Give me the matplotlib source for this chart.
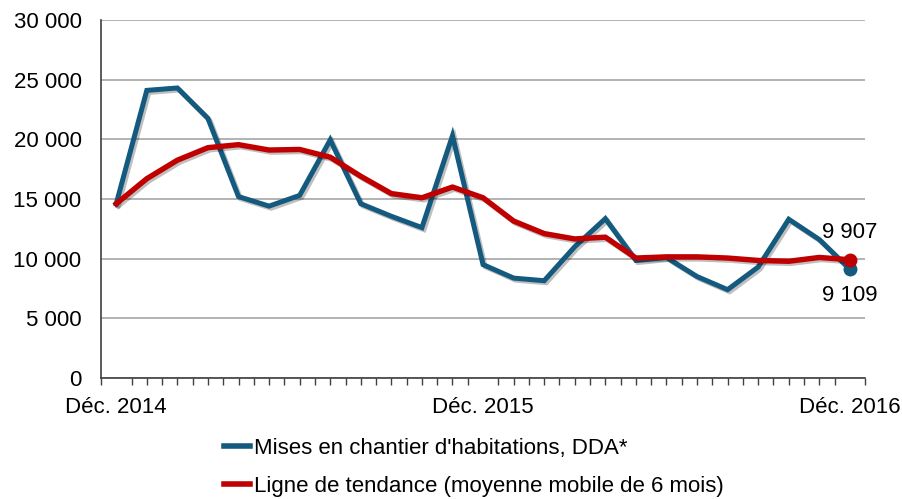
import numpy as np
import matplotlib
matplotlib.use("Agg")
import matplotlib.pyplot as plt
import matplotlib.patheffects as pe

# monthly values, Dec 2014 .. Dec 2016
starts = [14600, 24100, 24300, 21750, 15200, 14400, 15300, 19950, 14600, 13550,
          12600, 20300, 9500, 8370, 8150, 11000, 13350, 9850, 10100, 8500,
          7400, 9300, 13300, 11600, 9109]
trend = [14600, 16700, 18250, 19300, 19550, 19100, 19150, 18500, 16900, 15450,
         15100, 16000, 15100, 13150, 12100, 11650, 11800, 10050, 10150, 10150,
         10050, 9850, 9780, 10100, 9907]
tick_labels = {0: "Déc. 2014", 12: "Déc. 2015", 24: "Déc. 2016"}
series_names = ["Mises en chantier d'habitations, DDA*",
                "Ligne de tendance (moyenne mobile de 6 mois)"]

BLUE = "#14597e"
RED = "#c00000"

plt.rcParams["font.family"] = ["Liberation Sans", "DejaVu Sans"]

fig = plt.figure(figsize=(9.03, 4.99), dpi=100)
ax = fig.add_axes([0.1118, 0.2425, 0.8463, 0.7175])

x = np.arange(len(starts))
shadow = [pe.SimpleLineShadow(offset=(1.5, -1.5), alpha=0.25), pe.Normal()]
ax.plot(x, starts, color=BLUE, lw=3.6, solid_joinstyle="miter", path_effects=shadow,
        label=series_names[0], zorder=3)
ax.plot(x, trend, color=RED, lw=3.9, solid_joinstyle="round", path_effects=shadow,
        label=series_names[1], zorder=4)
ax.plot(x[-1], starts[-1], "o", color=BLUE, ms=9, zorder=5)
ax.plot(x[-1], trend[-1], "o", color=RED, ms=9, zorder=6)

def fmt(v):
    return f"{v:,}".replace(",", " ")

ax.annotate(fmt(trend[-1]), (x[-1], trend[-1]), xytext=(0, 12), textcoords="offset points",
            ha="center", va="bottom", fontsize=16)
ax.annotate(fmt(starts[-1]), (x[-1], starts[-1]), xytext=(0, -11), textcoords="offset points",
            ha="center", va="top", fontsize=16)

ax.set_xlim(-0.5, len(starts) - 0.5)
ax.set_ylim(0, 30000)
ax.set_yticks(np.arange(0, 30001, 5000))
ax.set_yticklabels([fmt(v) for v in range(0, 30001, 5000)], fontsize=16)
ax.yaxis.grid(True, color="#a6a6a6", lw=1.2)
ax.set_axisbelow(True)
ax.tick_params(axis="y", length=0, pad=14)

ax.set_xticks(np.arange(-0.5, len(starts), 0.5), minor=True)
ax.set_xticks(list(tick_labels.keys()))
ax.set_xticklabels(list(tick_labels.values()), fontsize=16)
ax.tick_params(axis="x", which="major", length=0, pad=14)
ax.tick_params(axis="x", which="minor", length=5, width=1, color="#404040")

for s in ["top", "right"]:
    ax.spines[s].set_visible(False)
for s in ["left", "bottom"]:
    ax.spines[s].set_color("#404040")
    ax.spines[s].set_linewidth(1.2)

leg = fig.legend(loc="upper left", bbox_to_anchor=(0.238, 0.14), frameon=False, ncol=1,
                 handlelength=1.2, handletextpad=0.15, labelspacing=0.75,
                 prop={"size": 16}, borderaxespad=0)
for line in leg.get_lines():
    line.set_linewidth(4)
    line.set_path_effects([])

fig.savefig("out.png", dpi=100)
